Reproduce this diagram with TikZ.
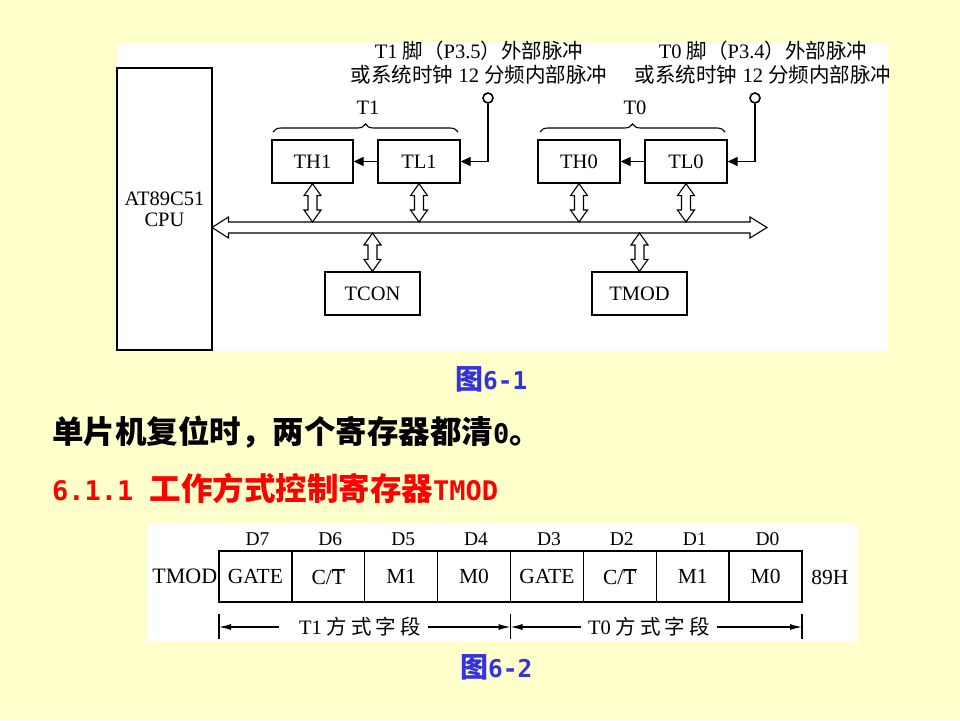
\documentclass[tikz,border=0pt]{standalone}
\usepackage{fontspec}
\setmainfont{Liberation Serif}
\newfontfamily\cjk{Noto Sans CJK SC}
\newfontfamily\hmono{DejaVu Sans Mono}
\usetikzlibrary{arrows.meta,decorations.pathreplacing,calc}
\definecolor{bgyellow}{RGB}{255,255,204}
\definecolor{capblue}{RGB}{51,51,221}
\newcommand\cbar{C/$\overline{\mbox{T}}$}
\newcommand\dblarrow[2]{%
  \draw[hollow] let \p1=(#1), \p2=(#2) in
    (\x1,\y1) -- (\x1+8.5pt,\y1-12pt) -- (\x1+4.5pt,\y1-12pt) -- (\x1+4.5pt,\y2+12pt)
    -- (\x1+8.5pt,\y2+12pt) -- (\x1,\y2) -- (\x1-8.5pt,\y2+12pt) -- (\x1-4.5pt,\y2+12pt)
    -- (\x1-4.5pt,\y1-12pt) -- (\x1-8.5pt,\y1-12pt) -- cycle;}
\begin{document}
\begin{tikzpicture}[x=1pt,y=-1pt,
  box/.style={draw,line width=1.3pt,inner sep=0pt,font=\fontsize{20.5}{21}\selectfont},
  hollow/.style={draw,line width=1.1pt,fill=white,line join=miter},
  annot/.style={align=center,inner sep=0pt,font=\fontsize{20.5}{24}\selectfont},
  flowarrow/.style={line width=1.3pt,-{Triangle[length=10pt,width=9pt]}},
  pin/.style={circle,draw,line width=1.6pt,fill=white,minimum size=10pt,inner sep=0pt},
  bracest/.style={decorate,decoration={brace,amplitude=8pt},line width=1.1pt},
  cellbox/.style={draw,line width=1.3pt,minimum width=72.875pt,minimum height=51pt,inner sep=0pt,font=\fontsize{21.5}{24}\selectfont},
  dlab/.style={inner sep=0pt,font=\fontsize{19.5}{22}\selectfont},
  dimarrow/.style={line width=1.1pt,-{Latex[length=12pt,width=6pt]}},
  dimtext/.style={inner sep=0pt,font=\fontsize{20.5}{22}\selectfont},
  headline/.style={anchor=west,inner sep=0pt,font=\fontsize{31.5}{34}\selectfont\cjk\bfseries},
  caption/.style={anchor=west,inner sep=0pt,text=capblue,font=\fontsize{28}{30}\selectfont\cjk\bfseries},
]
\fill[bgyellow] (0,0) rectangle (960,720);
\useasboundingbox (0,0) rectangle (960,720);
\fill[white] (117,43) rectangle (888,351);
\fill[white] (148,523) rectangle (858,641);

% ---------- Figure 6-1 ----------
\node[box,minimum width=95pt,minimum height=282pt,align=center] (CPU) at (164.5,209) {AT89C51\\CPU};
\node[box,minimum width=81pt,minimum height=43pt] (TH1) at (312.5,161.5) {TH1};
\node[box,minimum width=82pt,minimum height=43pt] (TL1) at (419,161.5) {TL1};
\node[box,minimum width=82pt,minimum height=43pt] (TH0) at (579,161.5) {TH0};
\node[box,minimum width=82pt,minimum height=43pt] (TL0) at (686,161.5) {TL0};
\node[box,minimum width=95pt,minimum height=43pt] (TCON) at (372.5,293.5) {TCON};
\node[box,minimum width=95pt,minimum height=43pt] (TMOD) at (639.5,293.5) {TMOD};

\node[annot] (src1) at (479,63) {T1 {\cjk 脚（}P3.5{\cjk ）外部脉冲}\\{\cjk 或系统时钟} 12 {\cjk 分频内部脉冲}};
\node[annot] (src0) at (763,63) {T0 {\cjk 脚（}P3.4{\cjk ）外部脉冲}\\{\cjk 或系统时钟} 12 {\cjk 分频内部脉冲}};

\node[pin] (p1) at (488,98) {};
\node[pin] (p0) at (755,98) {};
\draw[flowarrow] (p1.south) |- (TL1.east);
\draw[flowarrow] (p0.south) |- (TL0.east);
\draw[flowarrow] (TL1.west) -- (TH1.east);
\draw[flowarrow] (TL0.west) -- (TH0.east);

\coordinate (b1L) at (273,132);
\coordinate (b1R) at (458,132);
\coordinate (b0L) at (540,132);
\coordinate (b0R) at (725,132);
\draw[bracest] (b1L) -- (b1R);
\draw[bracest] (b0L) -- (b0R);
\node[box,draw=none] (T1lab) at (368,108) {T1};
\node[box,draw=none] (T0lab) at (635,108) {T0};

% bus
\coordinate (busL) at (212,227.5);
\coordinate (busR) at (767,227.5);
\coordinate (busT) at (0,222);
\coordinate (busB) at (0,233);
\draw[hollow] (busL) -- ($(busL)+(16.5,-10.5)$) -- ($(busL)+(16.5,-5.5)$)
  -- ($(busR)+(-17,-5.5)$) -- ($(busR)+(-17,-10.5)$) -- (busR)
  -- ($(busR)+(-17,10.5)$) -- ($(busR)+(-17,5.5)$)
  -- ($(busL)+(16.5,5.5)$) -- ($(busL)+(16.5,10.5)$) -- cycle;

\dblarrow{TH1.south}{TH1.south |- busT}
\dblarrow{TL1.south}{TL1.south |- busT}
\dblarrow{TH0.south}{TH0.south |- busT}
\dblarrow{TL0.south}{TL0.south |- busT}
\dblarrow{TCON.north |- busB}{TCON.north}
\dblarrow{TMOD.north |- busB}{TMOD.north}

\node[caption] (cap1) at (455,379) {图{\hmono\fontsize{24.5}{28}\selectfont 6-1}};

% ---------- text ----------
\node[headline] (reset) at (52,432) {单片机复位时，两个寄存器都清{\hmono\fontsize{27}{30}\selectfont 0}。};
\node[headline,text=red] (sec) at (52,488) {{\hmono\fontsize{27}{30}\selectfont 6.1.1 }工作方式控制寄存器{\hmono\fontsize{27}{30}\selectfont TMOD}};

% ---------- Figure 6-2 ----------
\node[cellbox] (b7) at (255.44,576.5) {GATE};
\node[cellbox] (b6) at (328.31,576.5) {\cbar};
\node[cellbox] (b5) at (401.19,576.5) {M1};
\node[cellbox] (b4) at (474.06,576.5) {M0};
\node[cellbox] (b3) at (546.94,576.5) {GATE};
\node[cellbox] (b2) at (619.81,576.5) {\cbar};
\node[cellbox] (b1) at (692.69,576.5) {M1};
\node[cellbox] (b0) at (765.56,576.5) {M0};
\foreach \b/\d in {b7/D7,b6/D6,b5/D5,b4/D4,b3/D3,b2/D2,b1/D1,b0/D0}
  \node[dlab] (l\b) at ($(\b.north)+(2,-11.5)$) {\d};
\node[anchor=east,inner sep=1pt,font=\fontsize{22}{24}\selectfont] (tmodlab) at (b7.west) {TMOD};
\node[font=\fontsize{21.5}{24}\selectfont,inner sep=0pt] (hex) at (830,577) {89H};

\coordinate (k0) at (219,614);
\coordinate (k1) at (510.5,614);
\coordinate (k2) at (802,614);
\draw[line width=1.1pt] (k0) -- ++(0,25);
\draw[line width=1.1pt] (k1) -- ++(0,25);
\draw[line width=1.1pt] (k2) -- ++(0,25);
\coordinate (a0) at (219,627);
\coordinate (a1) at (510.5,627);
\coordinate (a2) at (802,627);
\node[dimtext] (f1) at (360,627) {T1 {\cjk 方\hspace{4pt}式\hspace{4pt}字\hspace{4pt}段}};
\node[dimtext] (f0) at (649,627) {T0 {\cjk 方\hspace{4pt}式\hspace{4pt}字\hspace{4pt}段}};
\draw[dimarrow] ($(f1.west)+(-20,0)$) -- (a0);
\draw[dimarrow] ($(f1.east)+(7,0)$) -- (a1);
\draw[dimarrow] ($(f0.west)+(-7,0)$) -- (a1);
\draw[dimarrow] ($(f0.east)+(7,0)$) -- (a2);

\node[caption] (cap2) at (460,667) {图{\hmono\fontsize{24.5}{28}\selectfont 6-2}};
\end{tikzpicture}
\end{document}
